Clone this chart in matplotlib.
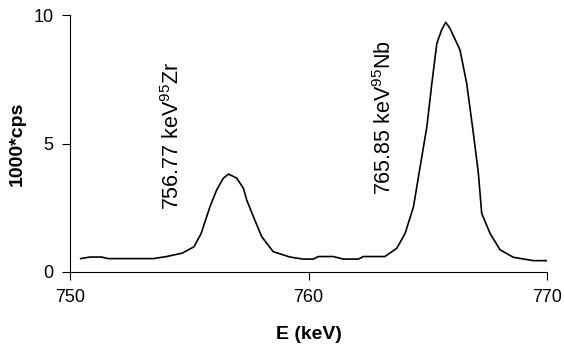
import matplotlib
matplotlib.use("Agg")
import matplotlib.pyplot as plt

plt.rcParams['font.family'] = ['Liberation Sans', 'DejaVu Sans']
plt.rcParams['mathtext.fontset'] = 'custom'
plt.rcParams['mathtext.rm'] = 'Liberation Sans'

# spectrum (keV, 1000*cps)
energy = [750.45, 750.84, 751.33, 751.6, 752.5, 753.5, 754.05, 754.7, 755.2, 755.5,
          755.87, 756.15, 756.43, 756.65, 756.99, 757.27, 757.41, 757.69, 758.04,
          758.52, 759.22, 759.78, 760.2, 760.41, 761.04, 761.46, 762.09, 762.3,
          763.2, 763.7, 764.05, 764.4, 764.68, 764.96, 765.17, 765.38, 765.58,
          765.75, 765.93, 766.35, 766.63, 766.91, 767.12, 767.26, 767.61, 768.03,
          768.59, 769.43, 769.99]
counts = [0.52, 0.58, 0.58, 0.52, 0.52, 0.52, 0.6, 0.73, 0.98, 1.5,
          2.54, 3.19, 3.65, 3.81, 3.65, 3.26, 2.80, 2.15, 1.37,
          0.79, 0.58, 0.5, 0.5, 0.6, 0.6, 0.5, 0.5, 0.6,
          0.6, 0.92, 1.5, 2.54, 4.1, 5.65, 7.34, 8.9, 9.42,
          9.72, 9.48, 8.64, 7.34, 5.4, 3.84, 2.28, 1.5, 0.86,
          0.57, 0.44, 0.44]

peak_labels = [r"756.77 keV$^{95}$Zr", r"765.85 keV$^{95}$Nb"]
peak_x = [754.32, 763.2]
peak_y = [2.41, 3.0]

fig = plt.figure(figsize=(5.64, 3.5), dpi=100)
ax = fig.add_axes([0.124, 0.223, 0.846, 0.734])
ax.plot(energy, counts, color='black', lw=1.2)

for lab, px, py in zip(peak_labels, peak_x, peak_y):
    ax.text(px, py, lab, rotation=90, ha='center', va='bottom', fontsize=15.5)

ax.set_xlim(750, 770)
ax.set_ylim(0, 10)
ax.set_xticks([750, 760, 770])
ax.set_yticks([0, 5, 10])
ax.spines['top'].set_visible(False)
ax.spines['right'].set_visible(False)
ax.tick_params(direction='out', length=6, pad=6, labelsize=13)
ax.set_xlabel("E (keV)", fontweight='bold', fontsize=14, labelpad=15)
ax.set_ylabel("1000*cps", fontweight='bold', fontsize=14, labelpad=5)

fig.savefig("out.png", dpi=100)
